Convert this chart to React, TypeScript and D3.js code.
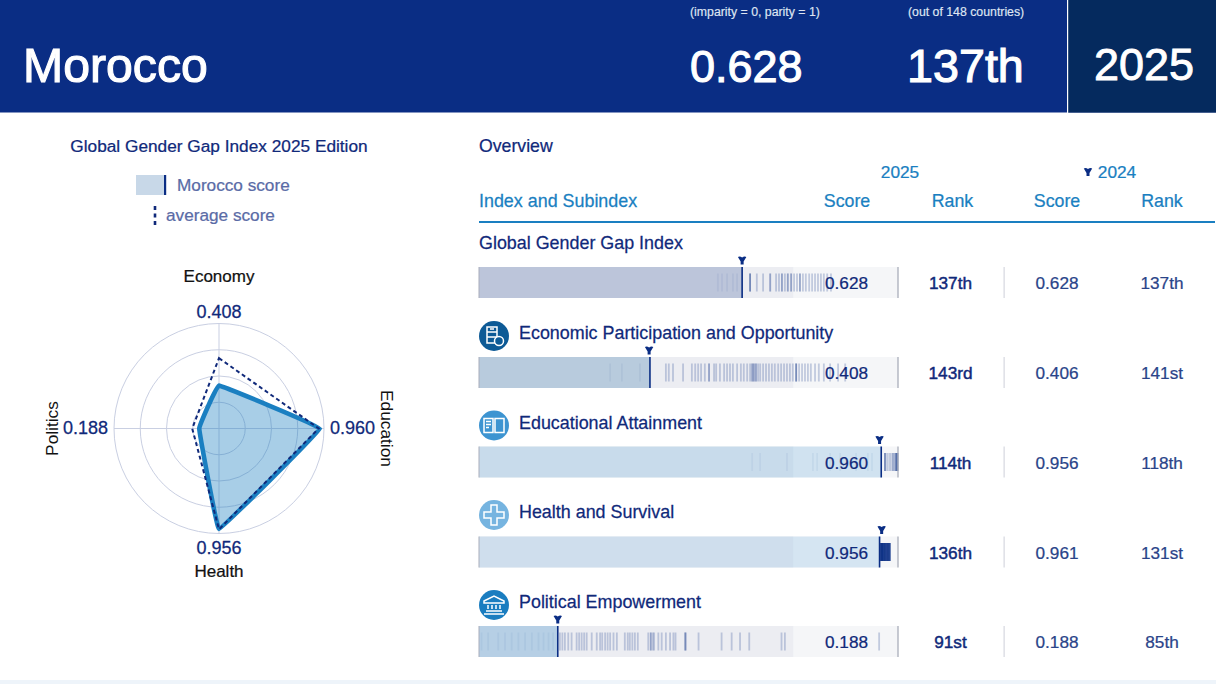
import { useEffect, useRef } from 'react';
import * as d3 from 'd3';

const rowNames = ['Global Gender Gap Index', 'Economic Participation and Opportunity', 'Educational Attainment', 'Health and Survival', 'Political Empowerment'];
const scores2025 = [0.628, 0.408, 0.96, 0.956, 0.188];
const ranks2025 = ['137th', '143rd', '114th', '136th', '91st'];
const scores2024 = [0.628, 0.406, 0.956, 0.961, 0.188];
const ranks2024 = ['137th', '141st', '118th', '131st', '85th'];

// other countries' scores
const countriesIndex = [0.57, 0.58, 0.592, 0.606, 0.616, 0.647, 0.647, 0.647, 0.663, 0.678, 0.695, 0.695, 0.709, 0.716, 0.723, 0.723, 0.73, 0.737, 0.737, 0.745, 0.745, 0.752, 0.759, 0.766, 0.766, 0.773, 0.78, 0.788, 0.795, 0.802, 0.809, 0.816, 0.823, 0.831, 0.84];
const countriesEconomy = [0.313, 0.341, 0.384, 0.446, 0.453, 0.463, 0.487, 0.508, 0.516, 0.523, 0.53, 0.539, 0.549, 0.549, 0.561, 0.566, 0.575, 0.585, 0.592, 0.599, 0.606, 0.616, 0.625, 0.632, 0.64, 0.647, 0.652, 0.652, 0.656, 0.656, 0.661, 0.661, 0.666, 0.671, 0.678, 0.685, 0.692, 0.699, 0.706, 0.714, 0.721, 0.728, 0.735, 0.742, 0.749, 0.757, 0.757, 0.757, 0.764, 0.771, 0.778, 0.785, 0.792, 0.802, 0.811, 0.823, 0.838, 0.857, 0.874];
const countriesEducation = [0.652, 0.671, 0.735, 0.797, 0.807, 0.838, 0.862, 0.9, 0.928, 0.938, 0.969, 0.969, 0.969, 0.974, 0.979, 0.983, 0.988, 0.988, 0.993, 0.993, 0.996, 0.996, 0.998, 0.998, 0.999, 0.999, 0.999];
const countriesHealth = [0.958, 0.958, 0.958, 0.958, 0.96, 0.96, 0.96, 0.96, 0.961, 0.961, 0.961, 0.961, 0.962, 0.962, 0.962, 0.962, 0.964, 0.964, 0.964, 0.964, 0.965, 0.965, 0.965, 0.967, 0.967, 0.967, 0.967, 0.968, 0.968, 0.968, 0.97, 0.97, 0.97, 0.97, 0.971, 0.971, 0.971, 0.973, 0.973, 0.973, 0.974, 0.974, 0.974, 0.976, 0.976, 0.976, 0.977, 0.977, 0.977, 0.977, 0.979, 0.979, 0.979, 0.98, 0.98, 0.98, 0.981, 0.981];
const countriesPolitics = [0.006, 0.022, 0.046, 0.062, 0.078, 0.094, 0.11, 0.126, 0.142, 0.154, 0.166, 0.177, 0.193, 0.199, 0.205, 0.213, 0.221, 0.233, 0.239, 0.245, 0.251, 0.257, 0.269, 0.281, 0.289, 0.294, 0.301, 0.307, 0.313, 0.321, 0.329, 0.348, 0.355, 0.36, 0.366, 0.372, 0.379, 0.404, 0.41, 0.41, 0.415, 0.418, 0.428, 0.436, 0.446, 0.456, 0.464, 0.469, 0.492, 0.492, 0.494, 0.524, 0.579, 0.603, 0.623, 0.645, 0.722, 0.73, 0.955];
const countryScores = [countriesIndex, countriesEconomy, countriesEducation, countriesHealth, countriesPolitics];

const radarLabels = ['Economy', 'Education', 'Health', 'Politics'];
const radarScores = [0.408, 0.96, 0.956, 0.188];
const radarAverage = [0.67, 0.95, 0.96, 0.255];
const radarRings = [0.25, 0.5, 0.75, 1];

const navy = '#0a2d84';
const textNavy = '#10297a';
const blue = '#1a7fc1';
const rowColors = ['#0a2d84', '#0d5a96', '#3d94d1', '#76b4e0', '#1a7dc0'];
const rowAlpha = [0.21, 0.23, 0.2, 0.25, 0.26];
const font = '"Liberation Sans", Arial, sans-serif';

export default function App() {
    const svgRef = useRef<SVGSVGElement>(null);

    useEffect(() => {
        if (!svgRef.current) return;
        const svg = d3.select(svgRef.current);
        svg.selectAll('*').remove();
        svg.style('font-family', font);

        // thin same-colour stroke: the original face is a touch heavier than Liberation
        const label = (x: number, y: number, str: string, size: number, color: string, anchor = 'start') =>
            svg.append('text')
                .attr('x', x)
                .attr('y', y)
                .attr('font-size', size)
                .attr('fill', color)
                .attr('stroke', color)
                .attr('stroke-width', size * 0.014)
                .attr('text-anchor', anchor)
                .text(str);

        // --- Header band ---
        svg.append('rect').attr('width', 1216).attr('height', 112.5).attr('fill', navy);
        svg.append('rect').attr('x', 1068).attr('width', 148).attr('height', 112.5).attr('fill', '#052a5e');
        svg.append('rect').attr('x', 1067).attr('width', 1.2).attr('height', 113).attr('fill', '#fff');
        label(23, 82, 'Morocco', 48.2, '#fff').attr('stroke-width', 1.1);
        label(690, 16, '(imparity = 0, parity = 1)', 12.3, '#dfe5f2');
        label(908, 16, '(out of 148 countries)', 12.3, '#dfe5f2');
        label(690, 82, '0.628', 45, '#fff').attr('stroke-width', 1.1);
        label(907, 82, '137th', 46.7, '#fff').attr('stroke-width', 1.1);
        label(1094, 80, '2025', 45, '#fff').attr('stroke-width', 0.9);
        svg.append('rect').attr('y', 680).attr('width', 1216).attr('height', 4).attr('fill', '#eef4fa');

        // --- Legend ---
        label(219, 151.5, 'Global Gender Gap Index 2025 Edition', 17.25, textNavy, 'middle');
        svg.append('rect').attr('x', 136).attr('y', 175).attr('width', 28).attr('height', 20).attr('fill', '#c8d8e8');
        svg.append('rect').attr('x', 164).attr('y', 175).attr('width', 2.2).attr('height', 20).attr('fill', navy);
        label(177, 191, 'Morocco score', 17.2, '#5a6ba6');
        svg.append('line')
            .attr('x1', 155).attr('x2', 155).attr('y1', 206).attr('y2', 225)
            .attr('stroke', textNavy).attr('stroke-width', 2.6).attr('stroke-dasharray', '4,3.5');
        label(166, 220.5, 'average score', 17.2, '#5a6ba6');

        // --- Radar ---
        const cx = 219;
        const cy = 428.5;
        const rScale = d3.scaleLinear().domain([0, 1]).range([0, 105]);
        const angle = d3.scalePoint<string>().domain(radarLabels.concat('')).range([0, 2 * Math.PI]);
        const radar = svg.append('g').attr('transform', `translate(${cx},${cy})`);

        radarRings.forEach(v => {
            radar.append('circle')
                .attr('r', rScale(v))
                .attr('fill', 'none')
                .attr('stroke', '#c9cfe2')
                .attr('stroke-width', 1);
        });
        radarLabels.forEach(name => {
            const a = angle(name)!;
            radar.append('line')
                .attr('x2', rScale(1) * Math.sin(a))
                .attr('y2', -rScale(1) * Math.cos(a))
                .attr('stroke', '#c9cfe2')
                .attr('stroke-width', 1);
        });

        const radial = d3.lineRadial<number>()
            .angle((_, i) => angle(radarLabels[i])!)
            .radius(d => rScale(d));

        // slight tension curve gives the rounded corners of the original polygon
        radar.append('path')
            .attr('d', radial.curve(d3.curveCardinalClosed.tension(0.88))(radarScores))
            .attr('fill', blue)
            .attr('fill-opacity', 0.38)
            .attr('stroke', blue)
            .attr('stroke-width', 4.6)
            .attr('stroke-linejoin', 'round');
        radar.append('path')
            .attr('d', radial.curve(d3.curveLinearClosed)(radarAverage))
            .attr('fill', 'none')
            .attr('stroke', textNavy)
            .attr('stroke-width', 2)
            .attr('stroke-dasharray', '4,3');

        label(cx, 282, radarLabels[0], 17, '#111', 'middle');
        label(cx, 318, radarScores[0].toFixed(3), 18, textNavy, 'middle');
        label(cx, 554, radarScores[2].toFixed(3), 18, textNavy, 'middle');
        label(cx, 576.5, radarLabels[2], 17, '#111', 'middle');
        label(85.5, 433.5, radarScores[3].toFixed(3), 18, textNavy, 'middle');
        label(352.5, 433.5, radarScores[1].toFixed(3), 18, textNavy, 'middle');
        svg.append('text')
            .attr('transform', `translate(58,${cy}) rotate(-90)`)
            .attr('text-anchor', 'middle').attr('font-size', 17.3).attr('fill', '#111')
            .text(radarLabels[3]);
        svg.append('text')
            .attr('transform', `translate(381,${cy}) rotate(90)`)
            .attr('text-anchor', 'middle').attr('font-size', 17.3).attr('fill', '#111')
            .text(radarLabels[1]);

        // --- Table header ---
        label(479, 152, 'Overview', 17.7, textNavy);
        label(900, 177.5, '2025', 17.3, blue, 'middle');
        label(1117, 177.5, '2024', 17.3, blue, 'middle');
        label(479, 207, 'Index and Subindex', 17.9, blue);
        label(847, 207, 'Score', 17.8, blue, 'middle');
        label(952.5, 207, 'Rank', 17.8, blue, 'middle');
        label(1057, 207, 'Score', 17.8, blue, 'middle');
        label(1162, 207, 'Rank', 17.8, blue, 'middle');
        svg.append('line')
            .attr('x1', 479).attr('x2', 1215).attr('y1', 222).attr('y2', 222)
            .attr('stroke', blue).attr('stroke-width', 2.2);

        const arrow = 'M-4.2,-3.6 Q-2,-4.4 0,-3 Q2,-4.4 4.2,-3.6 L1.5,1 L1.5,4 L-1.5,4 L-1.5,1 Z';
        svg.append('path').attr('d', arrow).attr('transform', 'translate(1088,172)').attr('fill', navy);

        // --- Rows ---
        const x = d3.scaleLinear().domain([0, 1]).range([479, 898]);
        const barTops = [267, 357, 446.5, 536.5, 626];
        const titleY = [249, 339, 428.5, 518, 607.5];
        const barH = 31;

        rowNames.forEach((name, i) => {
            const top = barTops[i];
            const score = scores2025[i];
            label(i === 0 ? 479 : 519, titleY[i], name, 17.9, textNavy);

            svg.append('rect').attr('x', x(0)).attr('y', top).attr('width', x(1) - x(0)).attr('height', barH).attr('fill', '#f5f6f8');
            svg.append('rect').attr('x', x(0)).attr('y', top).attr('width', x(0.75) - x(0)).attr('height', barH).attr('fill', '#ecedf2');

            svg.append('g')
                .selectAll('rect')
                .data(countryScores[i])
                .enter()
                .append('rect')
                .attr('x', d => x(d) - 0.9)
                .attr('y', top + 6.5)
                .attr('width', 1.8)
                .attr('height', barH - 13)
                .attr('fill', navy)
                .attr('opacity', d => (d < score ? 0.06 : 0.22));

            svg.append('rect')
                .attr('x', x(0)).attr('y', top)
                .attr('width', x(score) - x(0)).attr('height', barH)
                .attr('fill', rowColors[i]).attr('fill-opacity', rowAlpha[i]);

            svg.append('rect').attr('x', x(0) - 0.5).attr('y', top).attr('width', 1).attr('height', barH).attr('fill', '#a9aebb');
            svg.append('rect').attr('x', x(1) - 0.7).attr('y', top).attr('width', 1.4).attr('height', barH).attr('fill', '#b0b4bf');
            svg.append('rect').attr('x', 1003.6).attr('y', top).attr('width', 1).attr('height', barH).attr('fill', '#cdd0da');

            svg.append('rect')
                .attr('x', x(score) - 0.8).attr('y', top)
                .attr('width', 1.6).attr('height', barH)
                .attr('fill', navy);
            svg.append('path')
                .attr('d', arrow)
                .attr('transform', `translate(${x(scores2024[i])},${top - 6.5})`)
                .attr('fill', navy);

            const baseline = top + 22;
            label(868, baseline, score.toFixed(3), 17.2, textNavy, 'end');
            label(950.5, baseline, ranks2025[i], 17.2, textNavy, 'middle').attr('stroke-width', 0.45);
            label(1057, baseline, scores2024[i].toFixed(3), 17.2, '#2a4489', 'middle');
            label(1162, baseline, ranks2024[i], 17.2, '#2a4489', 'middle');
        });

        // --- Row icons ---
        const iconY = [336, 425.5, 515, 605];
        const iconPaths = [
            'M-7,-9 H3 V7 H-7 Z M-7,-4 H3 M-7,1 H3 M-4,-7 H0',
            'M-10,-7 H-1 V7 H-10 Z M1,-7 H10 V7 H1 Z M-8,-4 H-3 M-8,-1 H-3 M-8,2 H-5',
            'M-3,-10 H3 V-3 H10 V3 H3 V10 H-3 V3 H-10 V-3 H-3 Z',
            'M-10,-4 L0,-9 L10,-4 V-2 H-10 Z M-10,9 H10 M-8,6 H8 M-6,0 V4 M-2,0 V4 M2,0 V4 M6,0 V4'
        ];
        iconPaths.forEach((d, i) => {
            const g = svg.append('g').attr('transform', `translate(494,${iconY[i]})`);
            g.append('circle').attr('r', 15).attr('fill', rowColors[i + 1]);
            g.append('path').attr('d', d).attr('fill', 'none').attr('stroke', '#fff').attr('stroke-width', 1.5);
            if (i === 0) {
                g.append('circle').attr('cx', 5).attr('cy', 5).attr('r', 4.5)
                    .attr('fill', rowColors[1]).attr('stroke', '#fff').attr('stroke-width', 1.5);
            }
        });
    }, []);

    return (
        <div style={{ position: 'absolute', left: 0, top: 0 }}>
            <svg ref={svgRef} width={1216} height={684} style={{ display: 'block', background: '#fff' }} />
        </div>
    );
}
